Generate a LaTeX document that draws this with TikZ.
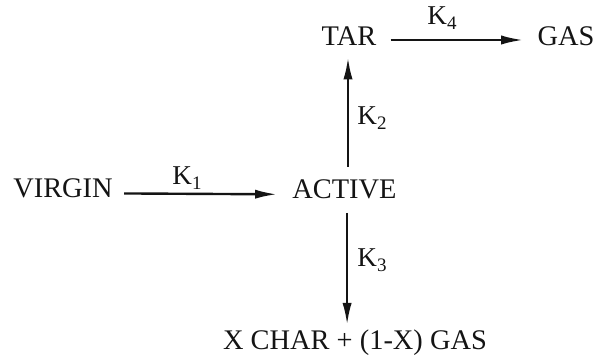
\documentclass[tikz,border=0pt]{standalone}
\usepackage{fontspec}
\setmainfont{Liberation Serif}
\usetikzlibrary{arrows.meta}
\definecolor{rxink}{RGB}{20,20,20}
\tikzset{
  spec/.style={inner sep=0pt, anchor=base, text=rxink, font=\fontsize{14.2}{17}\selectfont},
  rate/.style={inner sep=0pt, anchor=base west, text=rxink, font=\fontsize{13.6}{16}\selectfont},
  arr/.style={-{Latex[length=11pt,width=4.6pt]}, line width=1.2pt, draw=rxink}
}
\newcommand{\kk}[1]{K\textsubscript{#1}}

\begin{document}
\begin{tikzpicture}[x=0.5pt, y=-0.5pt]
  \useasboundingbox (0,0) rectangle (596,362);
  % species
  \node[spec] (virgin) at (63,198) {VIRGIN};
  \node[spec] (active) at (344.5,199) {ACTIVE};
  \node[spec] (tar) at (349,46) {TAR};
  \node[spec] (gas) at (566,46) {GAS};
  \node[spec] (char) at (355,350) {X CHAR + (1-X) GAS};
  % rate constants
  \node[rate] (k1) at (172,185) {\kk{1}};
  \node[rate] (k2) at (357,125) {\kk{2}};
  \node[rate] (k3) at (357,267) {\kk{3}};
  \node[rate] (k4) at (427,25) {\kk{4}};
  % reactions
  \draw[arr, shorten <=5.5pt, shorten >=7.5pt] ([yshift=2.3pt]virgin.base east) -- ([yshift=2.3pt]active.base west);
  \draw[arr, shorten <=6.5pt, shorten >=5.5pt] ([xshift=-0.5pt]active.north -| tar.south) -- ([xshift=-0.5pt]tar.south);
  \draw[arr, shorten <=6.5pt, shorten >=2.5pt] ([xshift=1.3pt]active.south) -- ([xshift=1.3pt]active.south |- char.north);
  \draw[arr, shorten <=7pt, shorten >=7pt] ([yshift=3pt]tar.base east) -- ([yshift=3pt]gas.base west);
\end{tikzpicture}
\end{document}
